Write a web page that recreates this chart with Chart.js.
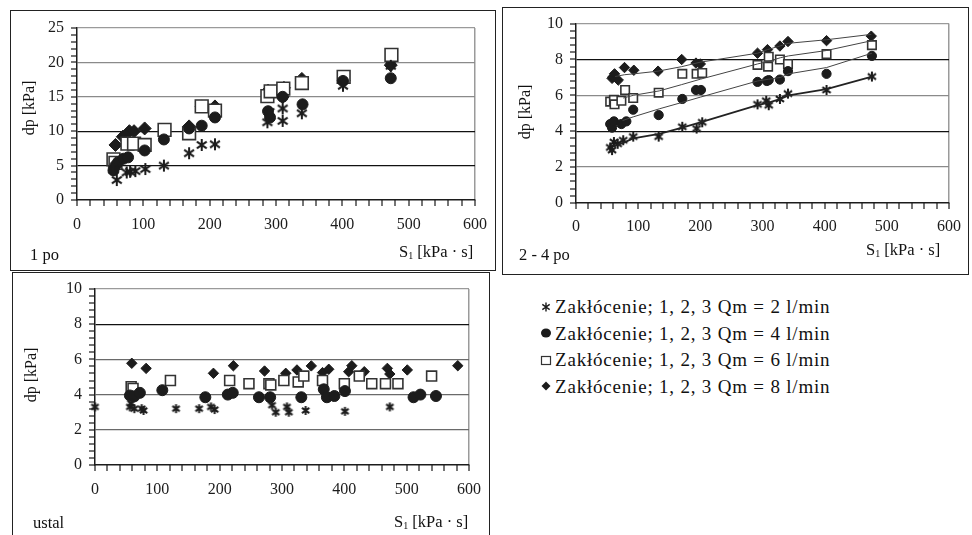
<!DOCTYPE html>
<html>
<head>
<meta charset="utf-8">
<script src="https://cdn.jsdelivr.net/npm/chart.js@4.4.1/dist/chart.umd.min.js"></script>
<style>
  body { margin: 0; width: 972px; height: 535px; position: relative; overflow: hidden; background: #fff;
         font-family: "Liberation Serif", "Times New Roman", serif; color: #111; }
  .box { position: absolute; border: 1px solid #222; box-sizing: border-box; }
  canvas.plot { position: absolute; }
  .txt { position: absolute; font-size: 16.5px; line-height: 18px; white-space: nowrap; }
  .ytitle { position: absolute; font-size: 16px; line-height: 18px; white-space: nowrap; transform: translate(-50%, -50%) rotate(-90deg); }
  .txt sub { font-size: 10px; vertical-align: -2px; }
  #legend { position: absolute; left: 540px; top: 294px; font-size: 19px; letter-spacing: 0.8px; }
  #legend div { height: 26.6px; line-height: 26px; white-space: nowrap; }
  #legend canvas { vertical-align: middle; margin-right: 3px; position: relative; top: -2px; }
</style>
</head>
<body>

<!-- panel frames -->
<div class="box" style="left:10px;top:10px;width:486px;height:261px"></div>
<div class="box" style="left:502px;top:7px;width:467px;height:268px"></div>
<div class="box" style="left:12px;top:272px;width:478px;height:270px"></div>

<canvas class="plot" id="chart1" width="486" height="261" style="left:10px;top:10px"></canvas>
<canvas class="plot" id="chart2" width="467" height="268" style="left:502px;top:7px"></canvas>
<canvas class="plot" id="chart3" width="478" height="263" style="left:12px;top:272px"></canvas>

<!-- axis titles and panel captions -->
<div class="ytitle" style="left:29px;top:108px">dp [kPa]</div>
<div class="txt" style="left:30px;top:246px">1 po</div>
<div class="txt" style="left:399px;top:243px">S<sub>1</sub> [kPa · s]</div>

<div class="ytitle" style="left:525px;top:112px">dp [kPa]</div>
<div class="txt" style="left:519px;top:246px">2 - 4 po</div>
<div class="txt" style="left:866px;top:241px">S<sub>1</sub> [kPa · s]</div>

<div class="ytitle" style="left:31px;top:375px">dp [kPa]</div>
<div class="txt" style="left:33px;top:514px">ustal</div>
<div class="txt" style="left:394px;top:513px">S<sub>1</sub> [kPa · s]</div>

<div id="legend"></div>

<script>
// series names (legend)
const seriesNames = [
    'Zakłócenie; 1, 2, 3 Qm = 2 l/min',
    'Zakłócenie; 1, 2, 3 Qm = 4 l/min',
    'Zakłócenie; 1, 2, 3 Qm = 6 l/min',
    'Zakłócenie; 1, 2, 3 Qm = 8 l/min'
];

// tick labels
const xMajorTicks = [0, 100, 200, 300, 400, 500, 600];
const p1YMajorTicks = [0, 5, 10, 15, 20, 25];
const p23YMajorTicks = [0, 2, 4, 6, 8, 10];

// panel 1 - "1 po"
const p1StarX = [55, 60, 75, 80, 88, 103, 131, 169, 188, 208, 287, 290, 310, 310, 339, 401, 473];
const p1StarY = [4.4, 2.9, 4.0, 4.1, 4.2, 4.5, 5.0, 6.8, 8.0, 8.1, 11.3, 12.8, 11.5, 13.3, 12.6, 16.6, 19.5];
const p1CircleX = [55, 58, 62, 70, 77, 102, 131, 169, 188, 208, 288, 291, 310, 340, 401, 473];
const p1CircleY = [4.3, 5.0, 5.5, 6.0, 6.2, 7.2, 8.8, 10.4, 10.8, 12.0, 12.9, 12.0, 15.0, 13.9, 17.3, 17.7];
const p1SquareX = [55, 58, 76, 86, 102, 132, 169, 188, 208, 287, 292, 311, 339, 402, 474];
const p1SquareY = [5.9, 5.4, 8.2, 8.2, 8.0, 10.2, 9.7, 13.6, 13.0, 15.1, 15.8, 16.2, 17.0, 17.9, 21.1];
const p1DiamondX = [58, 69, 79, 86, 102, 132, 169, 188, 208, 288, 310, 312, 339, 402, 473];
const p1DiamondY = [8.0, 9.2, 10.0, 10.0, 10.4, 10.0, 10.7, 13.6, 13.6, 15.9, 15.0, 16.3, 17.6, 17.4, 19.6];

// panel 2 - "2 - 4 po"
const p2StarX = [55, 58, 61, 67, 76, 92, 133, 171, 194, 203, 292, 306, 310, 328, 341, 403, 476];
const p2StarY = [3.1, 2.95, 3.4, 3.3, 3.5, 3.7, 3.7, 4.25, 4.15, 4.5, 5.5, 5.7, 5.45, 5.8, 6.1, 6.3, 7.05];
const p2CircleX = [55, 58, 61, 73, 81, 92, 133, 171, 193, 201, 292, 307, 310, 328, 341, 403, 476];
const p2CircleY = [4.4, 4.2, 4.55, 4.4, 4.55, 5.2, 4.9, 5.8, 6.3, 6.3, 6.75, 6.8, 6.85, 6.88, 7.35, 7.2, 8.2];
const p2SquareX = [55, 61, 62, 73, 79, 92, 133, 171, 194, 203, 292, 309, 310, 328, 341, 403, 476];
const p2SquareY = [5.65, 5.75, 5.5, 5.7, 6.3, 5.85, 6.15, 7.2, 7.2, 7.25, 7.7, 7.6, 8.15, 8.0, 7.75, 8.3, 8.8];
const p2DiamondX = [58, 60, 62, 68, 78, 93, 132, 170, 193, 200, 292, 308, 328, 341, 403, 475];
const p2DiamondY = [6.95, 7.05, 7.2, 6.85, 7.55, 7.4, 7.35, 8.0, 7.8, 7.75, 8.35, 8.55, 8.75, 9.0, 9.05, 9.3];

// panel 2 trend lines
const p2StarTrendX = [60, 76, 92, 134, 171, 200, 292, 310, 329, 342, 403, 476];
const p2StarTrendY = [3.15, 3.35, 3.6, 3.85, 4.2, 4.5, 5.45, 5.6, 5.8, 6.0, 6.35, 7.05];
const p2CircleTrendX = [75, 92, 134, 170, 200, 292, 310, 329, 342, 403, 476];
const p2CircleTrendY = [4.6, 4.8, 5.25, 5.6, 5.9, 6.8, 6.9, 7.0, 7.2, 7.55, 8.35];
const p2SquareTrendX = [76, 92, 134, 170, 200, 292, 310, 329, 342, 403, 476];
const p2SquareTrendY = [5.85, 6.0, 6.25, 6.6, 6.9, 7.75, 7.9, 8.1, 8.2, 8.5, 9.05];
const p2DiamondTrendX = [63, 78, 93, 132, 170, 200, 292, 308, 328, 341, 403, 475];
const p2DiamondTrendY = [7.05, 7.15, 7.2, 7.35, 7.6, 7.85, 8.35, 8.55, 8.75, 8.9, 9.1, 9.4];

// panel 3 - "ustal"
const p3StarX = [0, 56, 58, 63, 75, 78, 130, 167, 186, 192, 284, 290, 308, 311, 338, 401, 473];
const p3StarY = [3.3, 3.3, 3.5, 3.2, 3.2, 3.1, 3.2, 3.2, 3.3, 3.15, 3.4, 3.0, 3.3, 3.0, 3.1, 3.05, 3.3];
const p3CircleX = [56, 63, 72, 108, 177, 213, 221, 263, 281, 331, 367, 372, 384, 401, 511, 522, 547];
const p3CircleY = [3.95, 3.9, 4.1, 4.25, 3.85, 4.0, 4.1, 3.85, 3.85, 3.85, 4.3, 3.85, 3.92, 4.2, 3.85, 4.0, 3.92];
const p3SquareX = [58, 61, 121, 216, 247, 279, 282, 303, 326, 335, 365, 400, 424, 444, 466, 486, 540];
const p3SquareY = [4.45, 4.35, 4.8, 4.8, 4.62, 4.62, 4.55, 4.8, 4.72, 5.05, 4.8, 4.62, 5.05, 4.62, 4.62, 4.62, 5.05];
const p3DiamondX = [59, 82, 190, 222, 272, 306, 324, 347, 365, 375, 407, 412, 432, 469, 473, 501, 582];
const p3DiamondY = [5.78, 5.49, 5.21, 5.64, 5.34, 5.21, 5.4, 5.63, 5.25, 5.44, 5.3, 5.64, 5.3, 5.49, 5.17, 5.4, 5.64];

const INK = '#1c1c1c';
const TICK_LEN = 6;

Chart.defaults.font.family = '"Liberation Serif", "Times New Roman", serif';
Chart.defaults.font.size = 16;
Chart.defaults.color = INK;

function pts(xs, ys) {
    return xs.map((x, i) => ({ x: x, y: ys[i] }));
}

// six-armed asterisk marker (vertical + X)
function drawStar(g, cx, cy, r, lw) {
    g.strokeStyle = INK;
    g.lineWidth = lw;
    g.beginPath();
    [90, 35, 145].forEach(a => {
        const dx = Math.cos(a * Math.PI / 180) * r, dy = Math.sin(a * Math.PI / 180) * r;
        g.moveTo(cx - dx, cy - dy);
        g.lineTo(cx + dx, cy + dy);
    });
    g.stroke();
}

function starImage(size, lw) {
    const c = document.createElement('canvas');
    c.width = size; c.height = size;
    drawStar(c.getContext('2d'), size / 2, size / 2, size / 2 - 1, lw);
    return c;
}

function onMajor(v, majors) {
    return majors.some(m => Math.abs(v - m) < 1e-6);
}

// small tick marks at every scale tick, outside the axes
const tickMarks = {
    id: 'tickMarks',
    afterDraw(chart) {
        const g = chart.ctx, xs = chart.scales.x, ys = chart.scales.y;
        g.save();
        g.fillStyle = INK;
        xs.ticks.forEach(t => {
            const px = Math.round(xs.getPixelForValue(t.value));
            g.fillRect(px - 0.6, xs.top, 1.2, TICK_LEN);
        });
        ys.ticks.forEach(t => {
            const py = Math.round(ys.getPixelForValue(t.value));
            g.fillRect(ys.right - TICK_LEN, py - 0.6, TICK_LEN, 1.2);
        });
        g.restore();
    }
};

function scatterSets(star, circle, square, diamond, sz) {
    return [
        { data: star, pointStyle: starImage(sz.star, 2), pointRadius: sz.star / 2, clip: false },
        { data: circle, pointStyle: 'circle', pointRadius: sz.circle, backgroundColor: INK, borderColor: INK, borderWidth: 1, clip: false },
        { data: square, pointStyle: 'rect', pointRadius: sz.square, backgroundColor: '#fff', borderColor: '#333', borderWidth: 1.6, clip: false },
        { data: diamond, pointStyle: 'rectRot', pointRadius: sz.diamond, backgroundColor: INK, borderColor: INK, borderWidth: 1, clip: false }
    ];
}

function makePanel(id, cfg) {
    const canvas = document.getElementById(id);
    return new Chart(canvas, {
        type: 'scatter',
        data: { datasets: cfg.datasets },
        plugins: [tickMarks],
        options: {
            responsive: false,
            animation: false,
            events: [],
            layout: { padding: { left: 0, top: cfg.top, right: canvas.width - cfg.right, bottom: canvas.height - cfg.bottom - 34 } },
            plugins: { legend: { display: false }, tooltip: { enabled: false } },
            scales: {
                x: {
                    type: 'linear', min: 0, max: 600,
                    afterFit: s => { s.height = 34; },
                    border: { color: INK, width: 1.5 },
                    grid: {
                        color: ctx => ctx.tick && ctx.tick.value === 600 ? '#9a9a9a' : 'rgba(0,0,0,0)',
                        lineWidth: 1.5,
                        drawTicks: true, tickColor: 'rgba(0,0,0,0)', tickLength: TICK_LEN
                    },
                    ticks: {
                        stepSize: 20, autoSkip: false, maxRotation: 0, padding: cfg.xPad,
                        callback: v => onMajor(v, xMajorTicks) ? String(v) : ''
                    }
                },
                y: {
                    type: 'linear', min: 0, max: cfg.yMax,
                    afterFit: s => { s.width = cfg.left; },
                    border: { color: INK, width: 1.5 },
                    grid: {
                        color: ctx => {
                            const v = ctx.tick ? Math.round(ctx.tick.value * 100) / 100 : 0;
                            return cfg.gridColors[v] || 'rgba(0,0,0,0)';
                        },
                        lineWidth: 1.3,
                        drawTicks: true, tickColor: 'rgba(0,0,0,0)', tickLength: TICK_LEN
                    },
                    ticks: {
                        stepSize: cfg.yStep, autoSkip: false, padding: 7,
                        callback: v => onMajor(v, cfg.yMajors) ? String(Math.round(v)) : ''
                    }
                }
            }
        }
    });
}

// panel 1
makePanel('chart1', {
    left: 67, top: 18, right: 469, bottom: 190, xPad: 9,
    yMax: 25, yStep: 1, yMajors: p1YMajorTicks,
    gridColors: { 5: '#111', 10: '#111', 15: '#8a8a8a', 20: '#8a8a8a', 25: '#9a9a9a' },
    datasets: scatterSets(pts(p1StarX, p1StarY), pts(p1CircleX, p1CircleY), pts(p1SquareX, p1SquareY), pts(p1DiamondX, p1DiamondY),
        { star: 14, circle: 5.5, square: 9, diamond: 6.5 })
});

// panel 2 with trend lines
const trendStyle = { showLine: true, pointRadius: 0, borderColor: '#444', borderWidth: 1, fill: false, clip: false };
makePanel('chart2', {
    left: 74, top: 16, right: 449, bottom: 196, xPad: 8,
    yMax: 10, yStep: 0.4, yMajors: p23YMajorTicks,
    gridColors: { 2: '#8a8a8a', 4: '#111', 6: '#8a8a8a', 8: '#111', 10: '#9a9a9a' },
    datasets: [
        Object.assign({}, trendStyle, { data: pts(p2StarTrendX, p2StarTrendY), borderColor: '#222', borderWidth: 1.8 }),
        Object.assign({}, trendStyle, { data: pts(p2CircleTrendX, p2CircleTrendY) }),
        Object.assign({}, trendStyle, { data: pts(p2SquareTrendX, p2SquareTrendY) }),
        Object.assign({}, trendStyle, { data: pts(p2DiamondTrendX, p2DiamondTrendY) })
    ].concat(scatterSets(pts(p2StarX, p2StarY), pts(p2CircleX, p2CircleY), pts(p2SquareX, p2SquareY), pts(p2DiamondX, p2DiamondY),
        { star: 12, circle: 4.6, square: 6, diamond: 5.2 }))
});

// panel 3
makePanel('chart3', {
    left: 83, top: 17, right: 459, bottom: 193, xPad: 9,
    yMax: 10, yStep: 0.4, yMajors: p23YMajorTicks,
    gridColors: { 2: '#6a6a6a', 4: '#6a6a6a', 6: '#6a6a6a', 8: '#111', 10: '#9a9a9a' },
    datasets: scatterSets(pts(p3StarX, p3StarY), pts(p3CircleX, p3CircleY), pts(p3SquareX, p3SquareY), pts(p3DiamondX, p3DiamondY),
        { star: 11, circle: 5.5, square: 7, diamond: 5.2 })
});

// legend with small drawn markers
const legend = document.getElementById('legend');
seriesNames.forEach((name, i) => {
    const row = document.createElement('div');
    const c = document.createElement('canvas');
    c.width = 12; c.height = 12;
    const g = c.getContext('2d');
    g.fillStyle = INK;
    if (i === 0) {
        drawStar(g, 6, 6, 4.5, 1.4);
    } else if (i === 1) {
        g.beginPath(); g.ellipse(6, 6, 5, 4.5, 0, 0, Math.PI * 2); g.fill();
    } else if (i === 2) {
        g.strokeStyle = '#333'; g.lineWidth = 1.2; g.strokeRect(1.5, 2.5, 9, 8);
    } else {
        g.beginPath(); g.moveTo(6, 1.5); g.lineTo(10.5, 6); g.lineTo(6, 10.5); g.lineTo(1.5, 6); g.closePath(); g.fill();
    }
    row.appendChild(c);
    row.appendChild(document.createTextNode(name));
    legend.appendChild(row);
});
</script>
</body>
</html>
